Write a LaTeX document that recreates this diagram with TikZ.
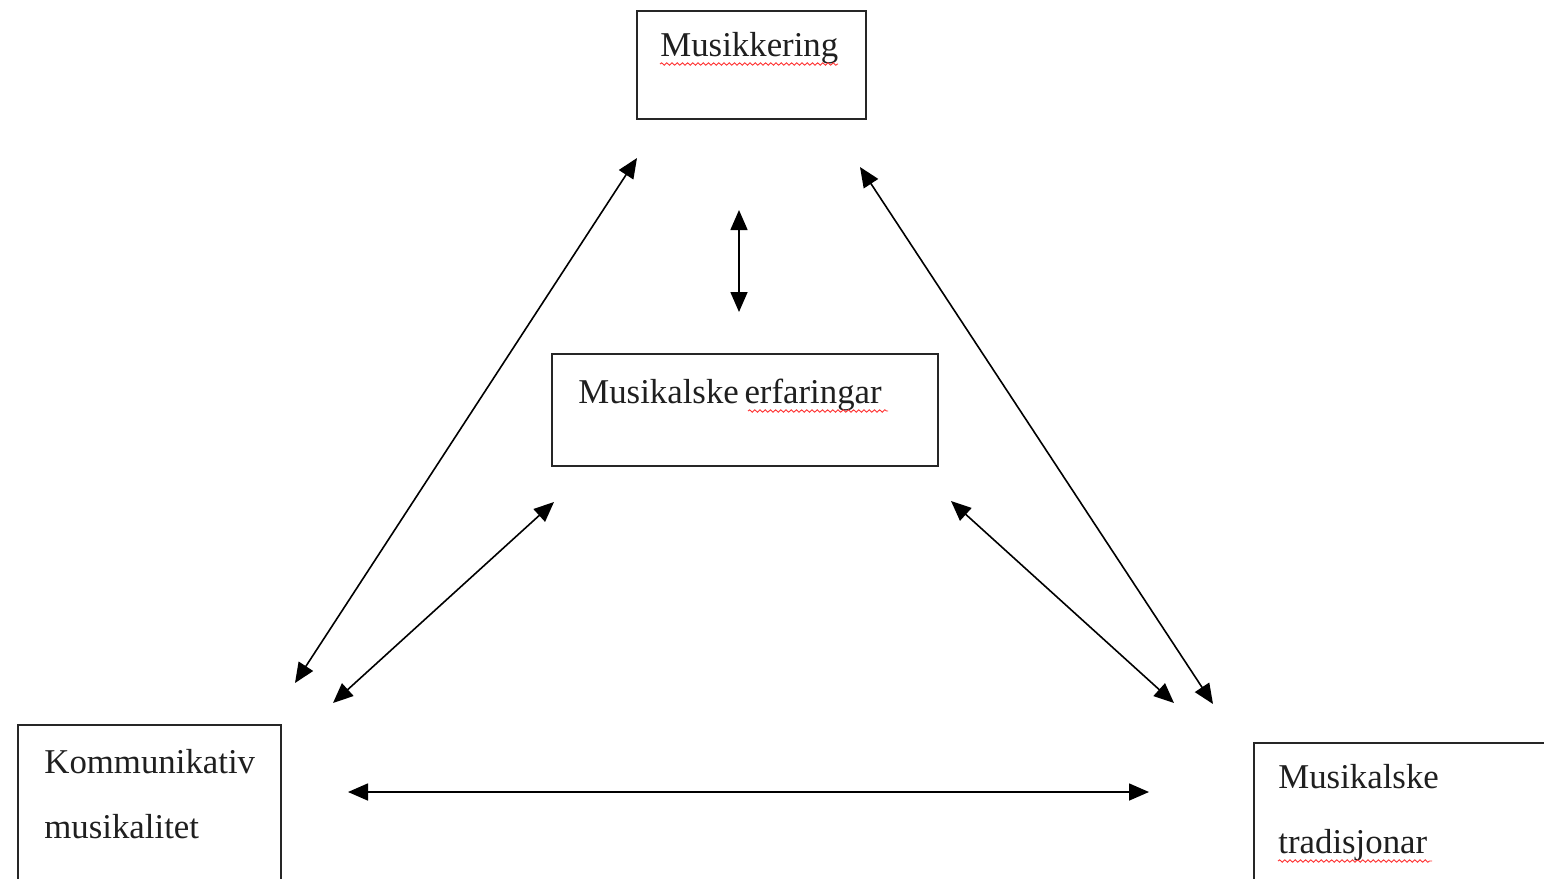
\documentclass[tikz,border=0pt]{standalone}
\usepackage{fontspec}
\setmainfont{Liberation Serif}
\usetikzlibrary{arrows.meta,decorations.pathmorphing}
\tikzset{
  box/.style={draw=black!85,line width=1pt},
  lbl/.style={anchor=base west,inner sep=0pt,font=\fontsize{17.4pt}{20pt}\selectfont,text=black!88},
  link/.style={line width=0.8pt,{Triangle[length=10pt,width=8.5pt]}-{Triangle[length=10pt,width=8.5pt]}},
  spell/.style={draw=red!80,line width=0.45pt,decorate,decoration={snake,amplitude=0.6pt,segment length=2.6pt}}
}
\begin{document}
\begin{tikzpicture}[x=0.5pt,y=-0.5pt]
\useasboundingbox (0,0) rectangle (1544,879);
\clip (0,0) rectangle (1544,879);
\fill[white] (0,0) rectangle (1544,879);
% boxes
\node[box,anchor=north west,minimum width=114.5pt,minimum height=54pt,inner sep=0pt] (bTop) at (636,10) {};
\node[box,anchor=north west,minimum width=193pt,minimum height=56pt,inner sep=0pt] (bMid) at (551,353) {};
\node[box,anchor=north west,minimum width=131.5pt,minimum height=90pt,inner sep=0pt] (bLeft) at (17,724) {};
\node[box,anchor=north west,minimum width=160pt,minimum height=80pt,inner sep=0pt] (bRight) at (1253,742) {};
% labels
\node[lbl] (tTop) at (660,56) {Musikkering};
\node[lbl] (tMid) at (578,403) {Musikalske\hspace{-1.5pt} erfaringar};
\node[lbl] (tL1) at (44,773) {Kommunikativ};
\node[lbl] (tL2) at (44,838) {musikalitet};
\node[lbl] (tR1) at (1278,788) {Musikalske};
\node[lbl] (tR2) at (1278,853) {tradisjonar};
% spelling underlines
\coordinate (s1a) at (660,64); \coordinate (s1b) at (838,64);
\coordinate (s2a) at (748,411); \coordinate (s2b) at (888,411);
\coordinate (s3a) at (1278,861); \coordinate (s3b) at (1432,861);
\path[spell] (s1a) -- (s1b);
\path[spell] (s2a) -- (s2b);
\path[spell] (s3a) -- (s3b);
% arrow end points
\coordinate (p1a) at (637,158); \coordinate (p1b) at (295,683);
\coordinate (p2a) at (739,210); \coordinate (p2b) at (739,312);
\coordinate (p3a) at (860,167); \coordinate (p3b) at (1213,704);
\coordinate (p4a) at (554,502); \coordinate (p4b) at (333,703);
\coordinate (p5a) at (951,501); \coordinate (p5b) at (1174,703);
\coordinate (p6a) at (348,792); \coordinate (p6b) at (1149,792);
\draw[link] (p1a) -- (p1b);
\draw[link] (p2a) -- (p2b);
\draw[link] (p3a) -- (p3b);
\draw[link] (p4a) -- (p4b);
\draw[link] (p5a) -- (p5b);
\draw[link] (p6a) -- (p6b);
\end{tikzpicture}
\end{document}
